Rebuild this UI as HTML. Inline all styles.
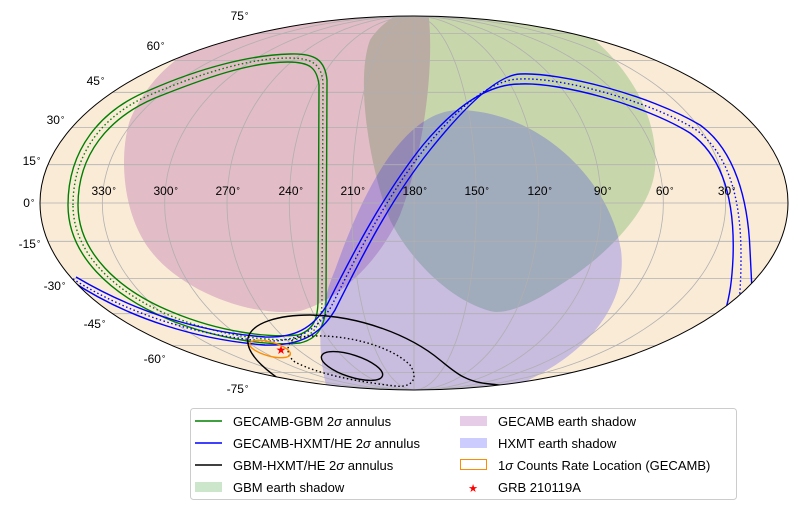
<!DOCTYPE html>
<html><head><meta charset="utf-8"><style>
html,body{margin:0;padding:0;background:#fff;}
svg{display:block;font-family:"Liberation Sans","DejaVu Sans",sans-serif;}
</style></head><body>
<svg id="s" width="798" height="510" viewBox="0 0 798 510" xmlns="http://www.w3.org/2000/svg">
<defs><clipPath id="c"><ellipse cx="414" cy="203" rx="374" ry="187"/></clipPath></defs>
<ellipse cx="414" cy="203" rx="374" ry="187" fill="#faebd7"/>
<g clip-path="url(#c)">
<path d="M370,40 C390,10 420,5 440,8 L560,15 C620,50 660,110 655,170 C650,215 600,260 560,285 C530,305 505,315 490,311 C450,300 410,260 390,220 C370,170 355,80 370,40 Z" fill="green" fill-opacity="0.2"/>
<path d="M200,45 C260,10 380,5 428,10 C435,60 425,150 400,215 C380,260 340,300 300,311 C250,318 180,290 150,250 C120,210 120,150 130,120 C145,85 170,60 200,45 Z" fill="purple" fill-opacity="0.2"/>
<path d="M460,110 C540,112 610,180 621,250 C630,320 560,380 470,400 L330,400 C315,350 318,310 335,270 C360,200 400,110 460,110 Z" fill="blue" fill-opacity="0.2"/>
</g>
<g id="grid" clip-path="url(#c)" fill="none" stroke="#b0b0b0" stroke-width="0.8"></g>
<g clip-path="url(#c)">
<g fill="none" stroke-width="1.4">
<path d="M68,205 C68,150 100,110 150,90 C200,68 250,55 290,54 C315,53 325,60 327,80 L326,300 C326,320 322,338 300,343 C270,346 220,340 170,320 C110,295 68,255 68,205 Z" stroke="green"/>
<path d="M78,205 C78,155 108,118 155,98 C205,78 250,62 288,62 C310,62 317,68 319,85 L318,300 C318,318 314,330 298,335 C268,338 220,332 172,312 C118,290 78,252 78,205 Z" stroke="green"/>
<path d="M73,205 C73,152 104,114 152,94 C202,73 250,58 289,58 C312,58 321,64 323,82 L322,300 C322,319 318,334 299,339 C269,342 220,336 171,316 C114,292 73,253 73,205 Z" stroke="green" stroke-dasharray="1.5,2.5"/>
<path d="M70,280 C130,320 200,340 265,345 C300,346 320,335 335,310 C360,260 390,200 430,150 C470,100 500,75 520,74 C560,72 650,95 700,125 C735,150 748,200 750,250 L752,290" stroke="blue"/>
<path d="M76,277 C135,312 200,332 265,337 C295,338 313,328 327,305 C352,255 383,195 423,145 C463,97 495,84 520,84 C560,82 645,105 690,133 C725,158 735,205 733,258 C732,280 730,295 725,312" stroke="blue"/>
<path d="M73,279 C132,316 200,336 265,341 C297,342 316,331 331,307 C356,257 386,197 426,147 C466,98 497,79 520,79 C560,77 647,100 695,129 C730,154 741,202 741,255 C741,280 740,295 738,310" stroke="blue" stroke-dasharray="1.5,2.5"/>
<path d="M300,392 C270,375 245,355 248,338 C252,322 280,315 310,315 C360,316 410,335 440,360 C455,372 465,382 490,384 L560,392" stroke="black"/>
<ellipse cx="352" cy="366" rx="32" ry="11" transform="rotate(18 352 366)" stroke="black"/>
<path d="M300,337 C340,332 390,345 410,365 C420,380 410,388 395,386 C360,382 320,375 295,362 C285,355 285,340 300,337" stroke="black" stroke-dasharray="1.5,2.5"/>
<ellipse cx="270" cy="349" rx="21" ry="7" transform="rotate(15 270 349)" stroke="#ff8c00"/>
</g>
<text x="281" y="354" font-size="12" fill="red" text-anchor="middle">★</text>
</g>
<ellipse cx="414" cy="203" rx="374" ry="187" fill="none" stroke="#000" stroke-width="1"/>
<g font-size="12" fill="#000" text-anchor="middle">
<text x="104" y="195">330<tspan font-size="8" dy="-4">∘</tspan></text>
<text x="166" y="195">300<tspan font-size="8" dy="-4">∘</tspan></text>
<text x="228" y="195">270<tspan font-size="8" dy="-4">∘</tspan></text>
<text x="291" y="195">240<tspan font-size="8" dy="-4">∘</tspan></text>
<text x="353" y="195">210<tspan font-size="8" dy="-4">∘</tspan></text>
<text x="415" y="195">180<tspan font-size="8" dy="-4">∘</tspan></text>
<text x="477" y="195">150<tspan font-size="8" dy="-4">∘</tspan></text>
<text x="540" y="195">120<tspan font-size="8" dy="-4">∘</tspan></text>
<text x="603" y="195">90<tspan font-size="8" dy="-4">∘</tspan></text>
<text x="665" y="195">60<tspan font-size="8" dy="-4">∘</tspan></text>
<text x="727" y="195">30<tspan font-size="8" dy="-4">∘</tspan></text>
</g>
<g font-size="12" fill="#000" text-anchor="end">
<text x="249" y="20">75<tspan font-size="8" dy="-4">∘</tspan></text>
<text x="165" y="50">60<tspan font-size="8" dy="-4">∘</tspan></text>
<text x="105" y="85">45<tspan font-size="8" dy="-4">∘</tspan></text>
<text x="65" y="124">30<tspan font-size="8" dy="-4">∘</tspan></text>
<text x="41" y="165">15<tspan font-size="8" dy="-4">∘</tspan></text>
<text x="35" y="207">0<tspan font-size="8" dy="-4">∘</tspan></text>
<text x="41" y="248">-15<tspan font-size="8" dy="-4">∘</tspan></text>
<text x="66" y="290">-30<tspan font-size="8" dy="-4">∘</tspan></text>
<text x="106" y="328">-45<tspan font-size="8" dy="-4">∘</tspan></text>
<text x="166" y="363">-60<tspan font-size="8" dy="-4">∘</tspan></text>
<text x="249" y="393">-75<tspan font-size="8" dy="-4">∘</tspan></text>
</g>
<rect x="190.5" y="408.5" width="546" height="91" rx="3" fill="#fff" stroke="#ccc"/>
<g font-size="13" fill="#000">
<line x1="195" y1="421" x2="222" y2="421" stroke="green" stroke-width="1.5"/>
<text x="233" y="426">GECAMB-GBM 2<tspan font-style="italic">σ</tspan> annulus</text>
<line x1="195" y1="443" x2="222" y2="443" stroke="blue" stroke-width="1.5"/>
<text x="233" y="448">GECAMB-HXMT/HE 2<tspan font-style="italic">σ</tspan> annulus</text>
<line x1="195" y1="465" x2="222" y2="465" stroke="black" stroke-width="1.5"/>
<text x="233" y="470">GBM-HXMT/HE 2<tspan font-style="italic">σ</tspan> annulus</text>
<rect x="195" y="482" width="27" height="10" fill="green" fill-opacity="0.2"/>
<text x="233" y="492">GBM earth shadow</text>
<rect x="460" y="416" width="27" height="10" fill="purple" fill-opacity="0.2"/>
<text x="498" y="426">GECAMB earth shadow</text>
<rect x="460" y="438" width="27" height="10" fill="blue" fill-opacity="0.2"/>
<text x="498" y="448">HXMT earth shadow</text>
<rect x="460.5" y="459.5" width="26" height="10" fill="none" stroke="#ff8c00"/>
<text x="498" y="470">1<tspan font-style="italic">σ</tspan> Counts Rate Location (GECAMB)</text>
<text x="473" y="492" fill="red" font-size="11" text-anchor="middle">★</text>
<text x="498" y="492">GRB 210119A</text>
</g>
</svg>
<script>
(function(){
var g=document.getElementById('grid'),cx=414,cy=203,rx=374,ry=187;
function th(p){if(Math.abs(p)>=Math.PI/2-1e-6)return p>0?Math.PI/2:-Math.PI/2;var t=p;for(var i=0;i<50;i++){var f=2*t+Math.sin(2*t)-Math.PI*Math.sin(p);t-=f/(2+2*Math.cos(2*t));}return t;}
function P(l,p){l=l*Math.PI/180;p=p*Math.PI/180;var t=th(p);return [cx-rx*(l/Math.PI)*Math.cos(t), cy-ry*Math.sin(t)];}
var out='';
for(var L=-150;L<=150;L+=30){var d='';for(var p=-90;p<=90;p+=2){var q=P(L,p);d+=(p==-90?'M':'L')+q[0].toFixed(1)+','+q[1].toFixed(1);}out+='<path d="'+d+'"/>';}
for(var F=-75;F<=75;F+=15){var a=P(-180,F),b=P(180,F);out+='<path d="M'+a[0].toFixed(1)+','+a[1].toFixed(1)+'L'+b[0].toFixed(1)+','+b[1].toFixed(1)+'"/>';}
g.innerHTML=out;
})();
</script>
</body></html>
